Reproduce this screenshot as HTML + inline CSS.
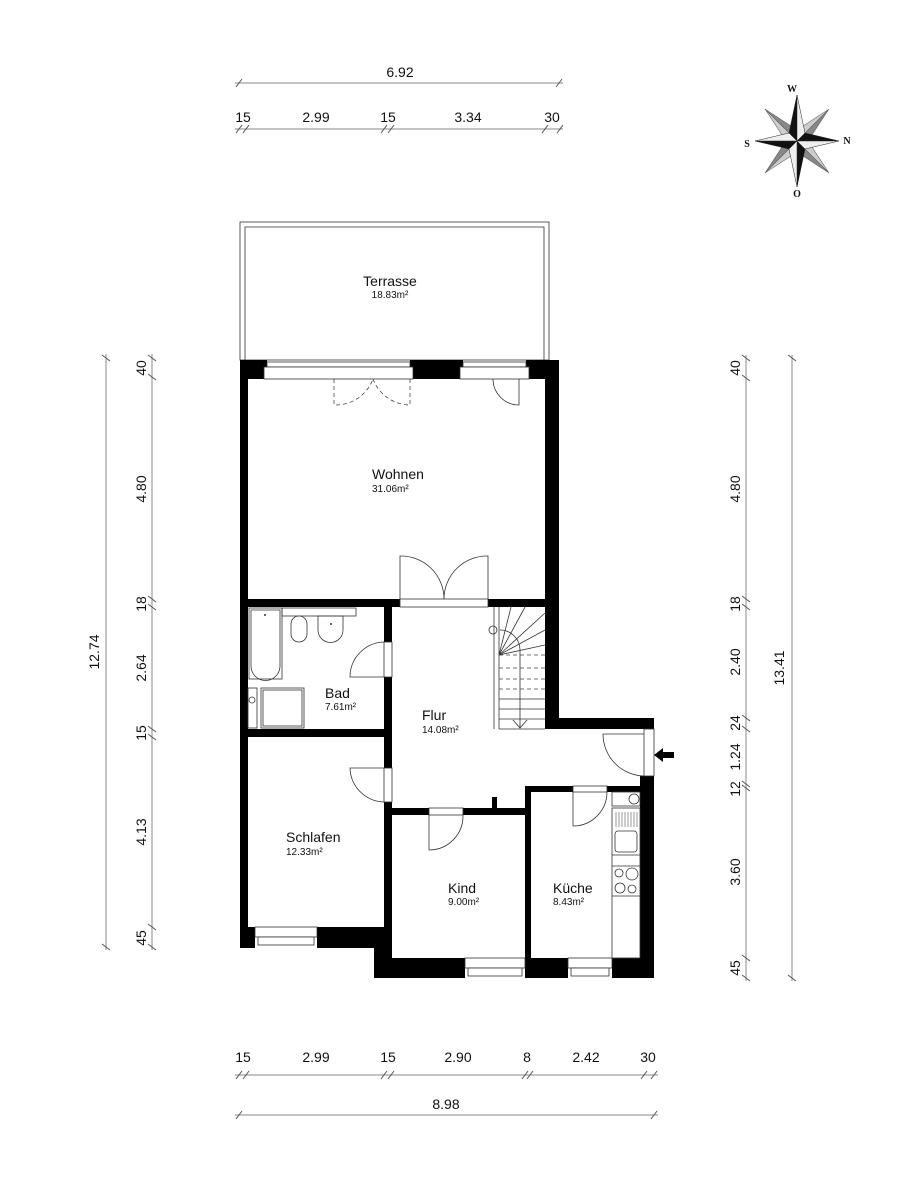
<!DOCTYPE html>
<html><head><meta charset="utf-8"><style>
html,body{margin:0;padding:0;background:#fff;}
svg{display:block;}
text{font-family:"Liberation Sans",sans-serif;fill:#111;}
.d{stroke:#888;stroke-width:1;fill:none;}
.t{stroke:#555;stroke-width:1;}
.l{stroke:#333;stroke-width:0.8;fill:none;}
.w{fill:#000;}
.f{fill:#fff;stroke:#333;stroke-width:0.8;}
.dash{stroke:#444;stroke-width:0.8;fill:none;stroke-dasharray:4,3;}
</style></head><body>
<svg width="916" height="1200" viewBox="0 0 916 1200" xmlns="http://www.w3.org/2000/svg">
<!-- top dimensions -->
<line class="d" x1="235" y1="83" x2="563" y2="83"/>
<g class="t"><line x1="236" y1="87" x2="242" y2="79"/><line x1="556" y1="87" x2="562" y2="79"/></g>
<text x="400" y="77" font-size="14" text-anchor="middle">6.92</text>
<line class="d" x1="235" y1="129" x2="563" y2="129"/>
<g class="t">
<line x1="236" y1="133" x2="242" y2="125"/><line x1="243" y1="133" x2="249" y2="125"/>
<line x1="381" y1="133" x2="387" y2="125"/><line x1="388" y1="133" x2="394" y2="125"/>
<line x1="542" y1="133" x2="548" y2="125"/><line x1="557" y1="133" x2="563" y2="125"/>
</g>
<g font-size="14" text-anchor="middle">
<text x="243" y="122">15</text><text x="316" y="122">2.99</text><text x="388" y="122">15</text><text x="468" y="122">3.34</text><text x="552" y="122">30</text>
</g>
<!-- compass -->
<g transform="translate(797,141)">
<g transform="rotate(45)" fill="#888" stroke="#555" stroke-width="0.5">
<polygon points="0,-45 8,-7 0,0"/><polygon points="0,-45 -8,-7 0,0" fill="#ccc"/>
<polygon points="45,0 7,8 0,0"/><polygon points="45,0 7,-8 0,0" fill="#ccc"/>
<polygon points="0,45 -8,7 0,0"/><polygon points="0,45 8,7 0,0" fill="#ccc"/>
<polygon points="-45,0 -7,-8 0,0"/><polygon points="-45,0 -7,8 0,0" fill="#ccc"/>
</g>
<g stroke="#222" stroke-width="0.5">
<polygon points="0,-46 -8,-8 0,0" fill="#111"/><polygon points="0,-46 8,-8 0,0" fill="#eee"/>
<polygon points="42,0 8,-8 0,0" fill="#111"/><polygon points="42,0 8,8 0,0" fill="#eee"/>
<polygon points="0,46 8,8 0,0" fill="#111"/><polygon points="0,46 -8,8 0,0" fill="#eee"/>
<polygon points="-42,0 -8,8 0,0" fill="#111"/><polygon points="-42,0 -8,-8 0,0" fill="#eee"/>
</g>
<g font-weight="bold" font-size="10" text-anchor="middle">
<text x="-5" y="-49" style="font-family:'Liberation Serif'">W</text>
<text x="50" y="3" style="font-family:'Liberation Serif'">N</text>
<text x="-50" y="6" style="font-family:'Liberation Serif'">S</text>
<text x="0" y="56" style="font-family:'Liberation Serif'">O</text>
</g>
</g>
<!-- terrace -->
<rect x="240" y="222" width="309" height="138" class="l"/>
<polyline points="245,360 245,227 544,227 544,360" class="l"/>
<text x="390" y="286" font-size="14" text-anchor="middle">Terrasse</text>
<text x="390" y="298" font-size="10" text-anchor="middle">18.83m²</text>
<!-- walls -->
<g class="w">
<rect x="240" y="360" width="8" height="588"/>
<rect x="240" y="360" width="27" height="19"/>
<rect x="410" y="360" width="53" height="19"/>
<rect x="526" y="360" width="33" height="19"/>
<rect x="545" y="360" width="14" height="369"/>
<rect x="545" y="718" width="109" height="11"/>
<rect x="644" y="718" width="10" height="11"/>
<rect x="640" y="776" width="14" height="202"/>
<rect x="240" y="927" width="15" height="21"/>
<rect x="317" y="927" width="67" height="21"/>
<rect x="374" y="927" width="18" height="51"/>
<rect x="374" y="958" width="91" height="20"/>
<rect x="525" y="958" width="43" height="20"/>
<rect x="612" y="958" width="42" height="20"/>
<rect x="240" y="599" width="160" height="8"/>
<rect x="488" y="599" width="71" height="8"/>
<rect x="384" y="607" width="8" height="35"/>
<rect x="384" y="677" width="8" height="91"/>
<rect x="384" y="802" width="8" height="176"/>
<rect x="248" y="729" width="136" height="8"/>
<rect x="384" y="808" width="45" height="7"/>
<rect x="463" y="808" width="67" height="7"/>
<rect x="492" y="797" width="5" height="12"/>
<rect x="525" y="786" width="6" height="192"/>
<rect x="525" y="786" width="48" height="6"/>
<rect x="607" y="786" width="37" height="6"/>
</g>
<!-- windows -->
<g class="f">
<rect x="267" y="362" width="143" height="5"/><rect x="264" y="367" width="149" height="12"/>
<rect x="463" y="362" width="63" height="5"/><rect x="460" y="367" width="69" height="12"/>
<rect x="255" y="927" width="62" height="10"/><rect x="258" y="937" width="56" height="8"/>
<rect x="465" y="958" width="60" height="10"/><rect x="468" y="968" width="54" height="8"/>
<rect x="568" y="958" width="44" height="10"/><rect x="571" y="968" width="38" height="8"/>
<rect x="400" y="599" width="88" height="8"/>
<rect x="384" y="642" width="8" height="35"/><rect x="384" y="768" width="8" height="34"/>
<rect x="429" y="808" width="34" height="7"/><rect x="573" y="786" width="34" height="6"/>
<rect x="644" y="729" width="10" height="47"/>
</g>
<path class="dash" d="M334,379 V405 A40,40 0 0 0 373,379 M373,379 A40,40 0 0 0 410,405 V379"/>
<path class="l" d="M519,379 V405 A26,26 0 0 1 493,379"/>
<path class="l" d="M400,599 V556 A43,43 0 0 1 444,599 M488,599 V556 A43,43 0 0 0 444,599"/>
<path class="l" d="M384,677 H350 A35,35 0 0 1 384,642"/>
<path class="l" d="M384,768 H350 A35,35 0 0 0 384,802"/>
<path class="l" d="M429,815 V850 A34,34 0 0 0 463,815"/>
<path class="l" d="M573,792 V826 A34,34 0 0 0 607,792"/>
<path class="l" d="M644,734 H603 A42,42 0 0 0 644,776"/>
<path d="M674,752 H663 V748 L654,755 L663,762 V758 H674 Z" fill="#000"/>
<!-- bath -->
<rect x="249" y="608" width="33" height="71" class="l"/>
<path class="l" d="M251,610 H280 V666 A14,14 0 0 1 251,666 Z"/>
<circle cx="265" cy="615" r="1" fill="#333"/>
<rect x="282" y="608" width="74" height="8" class="l"/>
<rect x="291" y="616" width="16" height="26" rx="8" class="l"/>
<path class="l" d="M318,616 H343 V630 A12,12 0 0 1 318,630 Z"/>
<circle cx="331" cy="624" r="1" fill="#333"/>
<rect x="248" y="688" width="9" height="40" class="l"/>
<circle cx="252" cy="700" r="3" class="l"/>
<rect x="261" y="688" width="43" height="40" class="l"/>
<rect x="263" y="690" width="39" height="36" class="l"/>
<!-- stairs -->
<g class="l">
<line x1="494" y1="607" x2="494" y2="729"/><line x1="499" y1="607" x2="499" y2="729"/>
<line x1="499" y1="729" x2="545" y2="729"/>
<line x1="499" y1="655" x2="511" y2="607"/><line x1="499" y1="655" x2="525" y2="607"/>
<line x1="499" y1="655" x2="545" y2="613"/><line x1="499" y1="655" x2="545" y2="630"/>
<line x1="499" y1="655" x2="545" y2="645"/>
<line x1="499" y1="699" x2="545" y2="699"/><line x1="499" y1="709" x2="545" y2="709"/><line x1="499" y1="719" x2="545" y2="719"/>
<path d="M500,630 A20,20 0 0 1 520,650 V728 M513,720 L520,728 L527,720"/>
<circle cx="493" cy="630" r="4"/>
</g>
<g class="dash"><line x1="499" y1="655" x2="545" y2="655"/><line x1="499" y1="668" x2="545" y2="668"/><line x1="499" y1="679" x2="545" y2="679"/><line x1="499" y1="689" x2="545" y2="689"/></g>
<!-- kitchen -->
<g class="l">
<rect x="612" y="792" width="28" height="14"/><circle cx="634" cy="799" r="5"/>
<rect x="612" y="808" width="28" height="150"/>
<line x1="612" y1="855" x2="640" y2="855"/><line x1="612" y1="866" x2="640" y2="866"/><line x1="612" y1="896" x2="640" y2="896"/>
<rect x="615" y="831" width="22" height="21" rx="3"/>
<circle cx="619" cy="873" r="4"/><circle cx="632" cy="874" r="6"/><circle cx="620" cy="888" r="5"/><circle cx="632" cy="889" r="4"/>
</g>
<g stroke="#555" stroke-width="0.6">
<line x1="616" y1="812" x2="616" y2="827"/><line x1="619" y1="812" x2="619" y2="827"/><line x1="622" y1="812" x2="622" y2="827"/><line x1="625" y1="812" x2="625" y2="827"/><line x1="628" y1="812" x2="628" y2="827"/><line x1="631" y1="812" x2="631" y2="827"/><line x1="634" y1="812" x2="634" y2="827"/><line x1="637" y1="812" x2="637" y2="827"/>
</g>
<!-- labels -->
<g text-anchor="start">
<text x="372" y="479" font-size="14">Wohnen</text><text x="372" y="492" font-size="10">31.06m²</text>
<text x="325" y="698" font-size="14">Bad</text><text x="325" y="710" font-size="10">7.61m²</text>
<text x="422" y="720" font-size="14">Flur</text><text x="422" y="733" font-size="10">14.08m²</text>
<text x="286" y="842" font-size="14">Schlafen</text><text x="286" y="855" font-size="10">12.33m²</text>
<text x="448" y="893" font-size="14">Kind</text><text x="448" y="905" font-size="10">9.00m²</text>
<text x="553" y="893" font-size="14">Küche</text><text x="553" y="905" font-size="10">8.43m²</text>
</g>
<!-- left dims -->
<line class="d" x1="106" y1="354" x2="106" y2="950"/>
<g class="t"><line x1="102" y1="355" x2="110" y2="361"/><line x1="102" y1="944" x2="110" y2="950"/></g>
<line class="d" x1="152" y1="354" x2="152" y2="950"/>
<g class="t">
<line x1="148" y1="355" x2="156" y2="361"/><line x1="148" y1="374" x2="156" y2="380"/>
<line x1="148" y1="596" x2="156" y2="602"/><line x1="148" y1="604" x2="156" y2="610"/>
<line x1="148" y1="726" x2="156" y2="732"/><line x1="148" y1="734" x2="156" y2="740"/>
<line x1="148" y1="924" x2="156" y2="930"/><line x1="148" y1="944" x2="156" y2="950"/>
</g>
<g font-size="14" text-anchor="middle">
<text transform="translate(99,652) rotate(-90)">12.74</text>
<text transform="translate(146,368) rotate(-90)">40</text>
<text transform="translate(146,489) rotate(-90)">4.80</text>
<text transform="translate(146,604) rotate(-90)">18</text>
<text transform="translate(146,668) rotate(-90)">2.64</text>
<text transform="translate(146,733) rotate(-90)">15</text>
<text transform="translate(146,832) rotate(-90)">4.13</text>
<text transform="translate(146,938) rotate(-90)">45</text>
</g>
<!-- right dims -->
<line class="d" x1="746" y1="355" x2="746" y2="981"/>
<line class="d" x1="792" y1="355" x2="792" y2="981"/>
<g class="t">
<line x1="788" y1="355" x2="796" y2="361"/><line x1="788" y1="975" x2="796" y2="981"/>
<line x1="742" y1="355" x2="750" y2="361"/><line x1="742" y1="375" x2="750" y2="381"/>
<line x1="742" y1="596" x2="750" y2="602"/><line x1="742" y1="604" x2="750" y2="610"/>
<line x1="742" y1="715" x2="750" y2="721"/><line x1="742" y1="726" x2="750" y2="732"/>
<line x1="742" y1="781" x2="750" y2="787"/><line x1="742" y1="785" x2="750" y2="791"/>
<line x1="742" y1="955" x2="750" y2="961"/><line x1="742" y1="975" x2="750" y2="981"/>
</g>
<g font-size="14" text-anchor="middle">
<text transform="translate(784,668) rotate(-90)">13.41</text>
<text transform="translate(740,368) rotate(-90)">40</text>
<text transform="translate(740,489) rotate(-90)">4.80</text>
<text transform="translate(740,604) rotate(-90)">18</text>
<text transform="translate(740,662) rotate(-90)">2.40</text>
<text transform="translate(740,723) rotate(-90)">24</text>
<text transform="translate(740,757) rotate(-90)">1.24</text>
<text transform="translate(740,789) rotate(-90)">12</text>
<text transform="translate(740,872) rotate(-90)">3.60</text>
<text transform="translate(740,968) rotate(-90)">45</text>
</g>
<!-- bottom dims -->
<line class="d" x1="235" y1="1075" x2="658" y2="1075"/>
<g class="t">
<line x1="236" y1="1079" x2="242" y2="1071"/><line x1="243" y1="1079" x2="249" y2="1071"/>
<line x1="381" y1="1079" x2="387" y2="1071"/><line x1="388" y1="1079" x2="394" y2="1071"/>
<line x1="522" y1="1079" x2="528" y2="1071"/><line x1="527" y1="1079" x2="533" y2="1071"/>
<line x1="641" y1="1079" x2="647" y2="1071"/><line x1="651" y1="1079" x2="657" y2="1071"/>
</g>
<g font-size="14" text-anchor="middle">
<text x="243" y="1062">15</text><text x="316" y="1062">2.99</text><text x="388" y="1062">15</text><text x="458" y="1062">2.90</text><text x="527" y="1062">8</text><text x="586" y="1062">2.42</text><text x="648" y="1062">30</text>
</g>
<line class="d" x1="235" y1="1115" x2="658" y2="1115"/>
<g class="t"><line x1="236" y1="1119" x2="242" y2="1111"/><line x1="651" y1="1119" x2="657" y2="1111"/></g>
<text x="446" y="1109" font-size="14" text-anchor="middle">8.98</text>
</svg>
</body></html>
